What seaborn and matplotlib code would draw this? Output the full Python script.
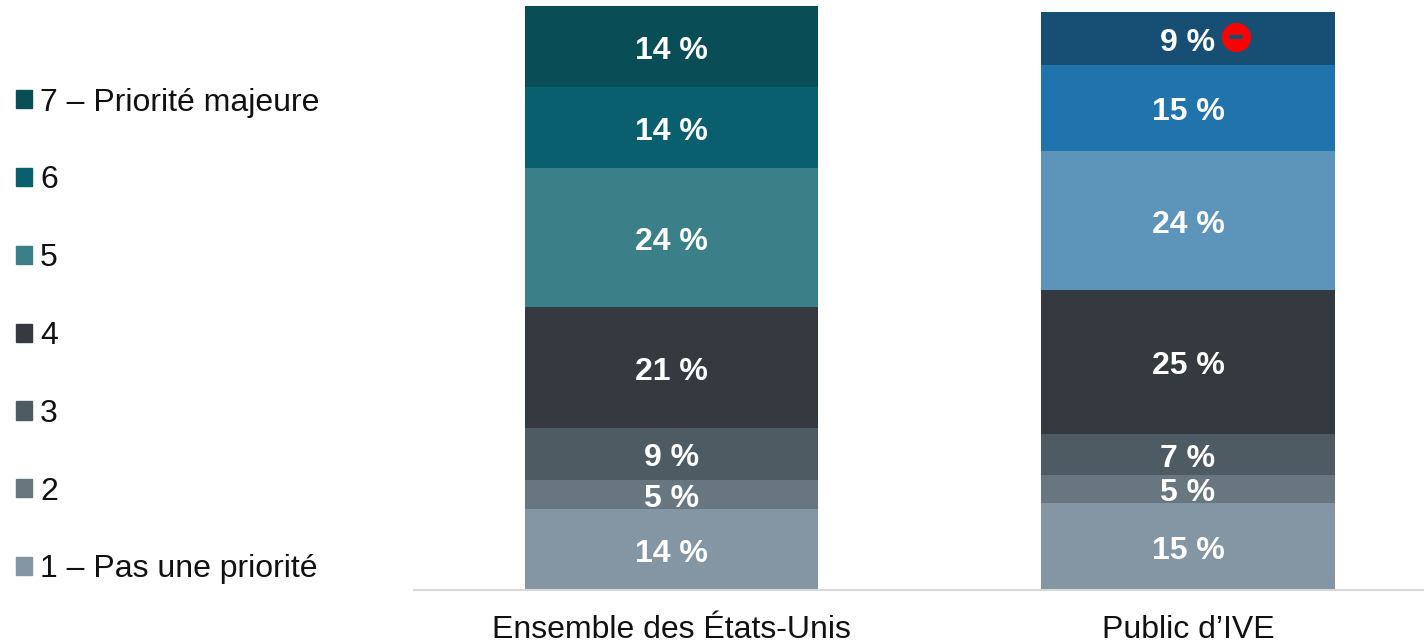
import matplotlib
matplotlib.use("Agg")
import matplotlib.pyplot as plt
import matplotlib.transforms as mtransforms
from matplotlib.patches import Patch
import pandas as pd
import seaborn as sns

# Données (du bas vers le haut de la pile)
groupes = ["Ensemble des États-Unis", "Public d’IVE"]
niveaux = ["1 – Pas une priorité", "2", "3", "4", "5", "6", "7 – Priorité majeure"]
ensemble = [14, 5, 9, 21, 24, 14, 14]
public_ive = [15, 5, 7, 25, 24, 15, 9]

# Hauteurs mesurées des segments, un peu différentes des valeurs arrondies
ensemble_hauteurs = [14.0, 5.0, 9.0, 20.9, 24.05, 14.0, 14.1]
public_ive_hauteurs = [15.05, 4.85, 7.1, 24.9, 24.05, 14.9, 9.15]

couleurs_ensemble = ["#8496a4", "#68767f", "#4f5b63", "#343a40", "#3b7f89", "#0a5f6e", "#094d57"]
couleurs_public = ["#8496a4", "#68767f", "#4f5b63", "#343a40", "#5c94ba", "#2073ab", "#164e74"]

sns.set_theme(style="white")
plt.rcParams["font.family"] = ["Liberation Sans", "DejaVu Sans"]

fig = plt.figure(figsize=(14.24, 6.44), dpi=100)
ax = fig.add_axes([414 / 1424, 54 / 644, 1010 / 1424, 590 / 644])

# Barres empilées : une pile par groupe, un appel à barplot par segment
colonnes = [
    (ensemble, ensemble_hauteurs, couleurs_ensemble),
    (public_ive, public_ive_hauteurs, couleurs_public),
]
for j, (valeurs, hauteurs, couleurs) in enumerate(colonnes):
    bas = 0.0
    for valeur, hauteur, couleur in zip(valeurs, hauteurs, couleurs):
        df = pd.DataFrame({"groupe": [groupes[j]], "valeur": [hauteur]})
        sns.barplot(
            data=df,
            x="groupe",
            y="valeur",
            order=groupes,
            color=couleur,
            saturation=1,
            bottom=bas,
            width=0.568,
            linewidth=0,
            ax=ax,
        )
        # Étiquette du pourcentage
        ax.annotate(
            f"{valeur} %",
            xy=(j, bas + hauteur / 2),
            xytext=(0, -3),
            textcoords="offset points",
            ha="center",
            va="center",
            color="white",
            fontsize=23,
            fontweight="bold",
        )
        centre = bas + hauteur / 2
        bas += hauteur

# Pastille rouge à droite du 9 % (centre = dernier segment de Public d'IVE)
decalage = mtransforms.ScaledTranslation(48 / 100, 1 / 100, fig.dpi_scale_trans)
ax.plot([1], [centre], marker="o", ms=21, mew=0, color="#fe0000",
        transform=ax.transData + decalage, zorder=5)
ax.plot([1], [centre], marker="_", ms=10.5, mew=3, color="#164e74",
        transform=ax.transData + decalage, zorder=6)

ax.set_xlim(-0.4985, 1.457)
ax.set_ylim(0, 590 / 5.78)
ax.set_xlabel("")
ax.set_ylabel("")
ax.set_yticks([])
ax.tick_params(axis="x", length=0, labelsize=23, pad=18, labelcolor="#111111")
for cote in ["top", "left", "right"]:
    ax.spines[cote].set_visible(False)
ax.spines["bottom"].set_color("#d9d9d9")
ax.spines["bottom"].set_linewidth(1.5)

# Légende à gauche, dans l'ordre inverse de la pile
poignees = [Patch(color=c, label=n) for c, n in zip(couleurs_ensemble[::-1], niveaux[::-1])]
fig.legend(
    handles=poignees,
    loc="center left",
    bbox_to_anchor=(0 / 1424, 1 - 336 / 644),
    frameon=False,
    fontsize=23,
    labelspacing=1.495,
    handlelength=0.5,
    handleheight=0.5,
    handletextpad=0.25,
    labelcolor="#111111",
    borderpad=0,
)

fig.savefig("out.png", dpi=100)
